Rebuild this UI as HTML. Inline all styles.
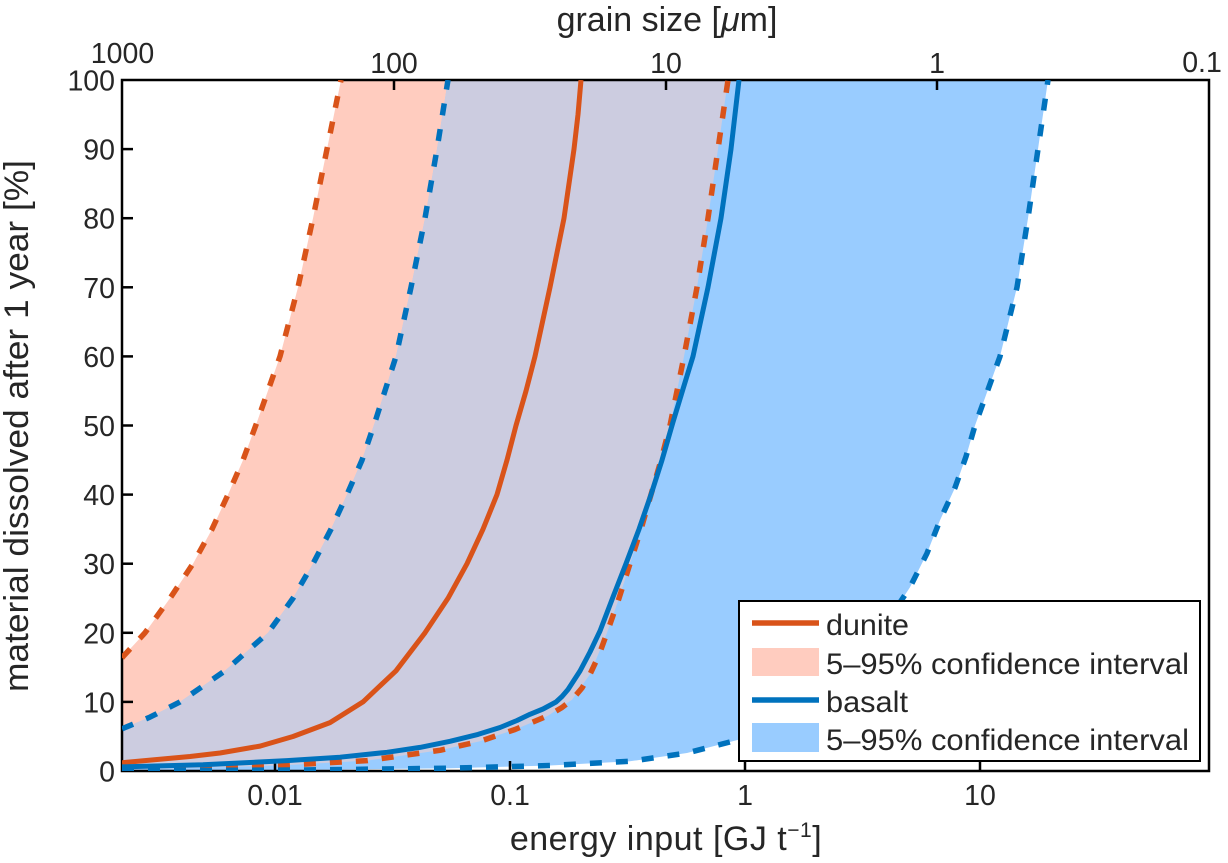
<!DOCTYPE html>
<html>
<head>
<meta charset="utf-8">
<style>
  html, body { margin:0; padding:0; background:#fff; }
  svg { display:block; }
  text { font-family: "Liberation Sans", Arial, sans-serif; fill:#262626; }
</style>
</head>
<body>
<svg width="1228" height="863" viewBox="0 0 1228 863" xmlns="http://www.w3.org/2000/svg">
  <defs>
    <clipPath id="plot">
      <rect x="122" y="80" width="1087" height="691"/>
    </clipPath>
  </defs>

  <g clip-path="url(#plot)">
    <polygon fill="#FFCCBF" points="122,657.7 145,632.8 170,598.3 193,563.7 212,529.2 228,494.6 243,460.1 257,422.0 280,356.4 298,287.3 313,218.2 327,149.1 341,80 728,80 718,149.1 708,218.2 697,287.3 684,356.4 670,425.5 661,460.1 651,494.6 641,529.2 630,563.7 619,598.3 607,632.8 590,674.3 572,699.8 548,715.7 515,729.5 480,741.3 440,750.3 367,760.6 280,765.5 200,767.9 122,769.3"/>
    <polygon fill="#99CCFF" points="122,728.8 150,717.1 180,701.9 225,670.8 268,632.8 293,598.3 313,563.7 331,529.2 347,494.6 362,460.1 375,422.0 396,356.4 411,287.3 425,218.2 437,149.1 448,80 1048,80 1038,149.1 1028,218.2 1017,287.3 1000,356.4 975,425.5 966,456.6 955,487.7 940,520.2 927,553.3 910,587.2 880,632.8 840,681.2 790,715.7 738,739.9 687,753.0 630,761.3 550,765.5 450,768.2 300,770.0 122,770.7"/>
    <polygon fill="#CCCCE0" points="122,728.8 150,717.1 180,701.9 225,670.8 268,632.8 293,598.3 313,563.7 331,529.2 347,494.6 362,460.1 375,422.0 396,356.4 411,287.3 425,218.2 437,149.1 448,80 728,80 718,149.1 708,218.2 697,287.3 684,356.4 670,425.5 661,460.1 651,494.6 641,529.2 630,563.7 619,598.3 607,632.8 590,674.3 572,699.8 548,715.7 515,729.5 480,741.3 440,750.3 367,760.6 280,765.5 200,767.9 122,769.3"/>
  </g>

  <rect x="122" y="80" width="1087" height="691" fill="none" stroke="#000" stroke-width="2.5"/>

  <g stroke="#000" stroke-width="2.5">
    <line x1="122" y1="701.9" x2="133" y2="701.9"/>
    <line x1="122" y1="632.8" x2="133" y2="632.8"/>
    <line x1="122" y1="563.7" x2="133" y2="563.7"/>
    <line x1="122" y1="494.6" x2="133" y2="494.6"/>
    <line x1="122" y1="425.5" x2="133" y2="425.5"/>
    <line x1="122" y1="356.4" x2="133" y2="356.4"/>
    <line x1="122" y1="287.3" x2="133" y2="287.3"/>
    <line x1="122" y1="218.2" x2="133" y2="218.2"/>
    <line x1="122" y1="149.1" x2="133" y2="149.1"/>
    <line x1="394" y1="80" x2="394" y2="90"/>
    <line x1="666" y1="80" x2="666" y2="90"/>
    <line x1="937" y1="80" x2="937" y2="90"/>
    <line x1="275" y1="771" x2="275" y2="761"/>
    <line x1="510" y1="771" x2="510" y2="761"/>
    <line x1="745" y1="771" x2="745" y2="761"/>
    <line x1="980" y1="771" x2="980" y2="761"/>
  </g>

  <g clip-path="url(#plot)" fill="none" stroke-linejoin="round">
    <polyline stroke="#D95319" stroke-width="5.5" stroke-dasharray="12 14" points="122,657.7 145,632.8 170,598.3 193,563.7 212,529.2 228,494.6 243,460.1 257,422.0 280,356.4 298,287.3 313,218.2 327,149.1 341,80"/>
    <polyline stroke="#D95319" stroke-width="5.5" stroke-dasharray="12 14" points="122,769.3 200,767.9 280,765.5 367,760.6 440,750.3 480,741.3 515,729.5 548,715.7 562,707.5 572,699.8 582,688 590,674.3 599,655 607,632.8 619,598.3 630,563.7 641,529.2 651,494.6 661,460.1 670,425.5 684,356.4 697,287.3 708,218.2 718,149.1 728,80"/>
    <polyline stroke="#0072BD" stroke-width="5.5" stroke-dasharray="12 14" points="122,728.8 150,717.1 180,701.9 225,670.8 268,632.8 293,598.3 313,563.7 331,529.2 347,494.6 362,460.1 375,422.0 396,356.4 411,287.3 425,218.2 437,149.1 448,80"/>
    <polyline stroke="#0072BD" stroke-width="5.5" stroke-dasharray="12 14" points="122,770.7 300,770.0 450,768.2 550,765.5 630,761.3 687,753.0 738,739.9 790,715.7 840,681.2 880,632.8 910,587.2 927,553.3 940,520.2 955,487.7 966,456.6 975,425.5 1000,356.4 1017,287.3 1028,218.2 1038,149.1 1048,80"/>
    <polyline stroke="#D95319" stroke-width="5" points="122,762.7 153,759.9 190,756.5 220,753.0 260,746.1 293,736.5 330,722.6 363,701.9 396,670.8 425,632.8 448,598.3 467,563.7 483,529.2 497,494.6 507,460.1 516,425.5 526,391.0 535,356.4 550,287.3 564,218.2 569,183.6 574,149.1 578,114.5 581,80"/>
    <polyline stroke="#0072BD" stroke-width="5" points="122,766.9 203,764.8 287,760.6 340,757.2 387,752.3 420,747.4 450,741.3 478,734.4 500,727.5 517,720.5 530,714.3 543,709 556,702 562,696.5 568,689.5 580,671 590,652 600,631 613,597 626,563.7 639,529.2 651,494.6 662,460.1 673,422.0 683,389 693,356.4 708,287.3 721,218.2 726,183.6 731,149.1 735,114.5 739,80"/>
  </g>

  <g font-size="28.5" text-anchor="end">
    <text x="115" y="781.5">0</text>
    <text x="115" y="712.4">10</text>
    <text x="115" y="643.3">20</text>
    <text x="115" y="574.2">30</text>
    <text x="115" y="505.1">40</text>
    <text x="115" y="436">50</text>
    <text x="115" y="366.9">60</text>
    <text x="115" y="297.8">70</text>
    <text x="115" y="228.7">80</text>
    <text x="115" y="159.6">90</text>
    <text x="115" y="90.5">100</text>
  </g>

  <g font-size="28.5" text-anchor="middle">
    <text x="275" y="805">0.01</text>
    <text x="510" y="805">0.1</text>
    <text x="745" y="805">1</text>
    <text x="980" y="805">10</text>
  </g>

  <g font-size="28.5" text-anchor="middle">
    <text x="122.5" y="63">1000</text>
    <text x="394" y="73">100</text>
    <text x="666" y="73">10</text>
    <text x="937" y="73">1</text>
    <text x="1202" y="72">0.1</text>
  </g>

  <text x="666" y="850" font-size="34" text-anchor="middle" letter-spacing="0.5">energy input [GJ t<tspan dy="-13" font-size="21">−1</tspan><tspan dy="13" font-size="34">]</tspan></text>
  <text x="667" y="31" font-size="34" text-anchor="middle">grain size [<tspan font-style="italic">μ</tspan>m]</text>
  <text transform="translate(28,426) rotate(-90)" x="0" y="0" font-size="34" text-anchor="middle" textLength="532" lengthAdjust="spacingAndGlyphs">material dissolved after 1 year [%]</text>

  <rect x="739" y="601" width="461" height="160" fill="#fff" stroke="#000" stroke-width="2"/>
  <line x1="752" y1="623" x2="819" y2="623" stroke="#D95319" stroke-width="5.5"/>
  <rect x="752" y="648" width="67" height="28" fill="#FFCCBF"/>
  <line x1="752" y1="700" x2="819" y2="700" stroke="#0072BD" stroke-width="5.5"/>
  <rect x="752" y="723" width="67" height="29" fill="#99CCFF"/>
  <g font-size="30">
    <text x="826" y="635" textLength="83" lengthAdjust="spacingAndGlyphs">dunite</text>
    <text x="826" y="674" textLength="363" lengthAdjust="spacingAndGlyphs">5–95% confidence interval</text>
    <text x="826" y="712" textLength="82" lengthAdjust="spacingAndGlyphs">basalt</text>
    <text x="826" y="750" textLength="363" lengthAdjust="spacingAndGlyphs">5–95% confidence interval</text>
  </g>
</svg>
</body>
</html>
